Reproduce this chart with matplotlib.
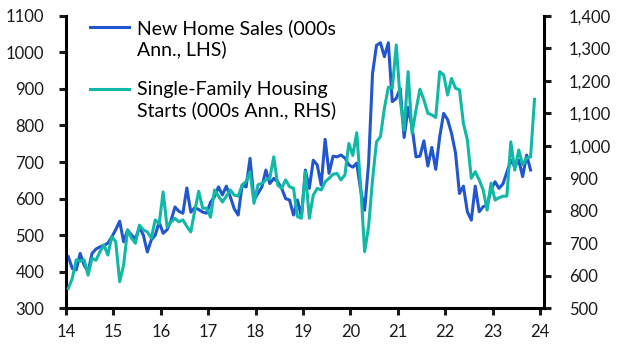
import matplotlib.pyplot as plt
from matplotlib.ticker import FuncFormatter
from matplotlib.legend_handler import HandlerLine2D
from matplotlib.lines import Line2D

plt.rcParams['font.family'] = ['Lato', 'DejaVu Sans']

# New home sales (000s annualised, LHS), Jan 2014 - Oct 2023
home_sales = [
    441, 409, 405, 450, 418, 400, 450, 462, 468, 472, 478, 495,   # 2014
    515, 538, 482, 514, 500, 490, 522, 500, 454, 487, 500, 536,   # 2015
    505, 515, 540, 577, 565, 560, 629, 563, 575, 570, 563, 560,   # 2016
    590, 605, 632, 610, 634, 605, 572, 555, 637, 632, 710, 596,   # 2017
    614, 632, 678, 641, 655, 646, 628, 600, 596, 555, 596, 550,   # 2018
    678, 628, 705, 692, 637, 762, 669, 716, 714, 719, 711, 692,   # 2019
    686, 697, 623, 568, 696, 942, 1019, 1026, 988, 1026, 865, 874,  # 2020
    901, 767, 849, 796, 714, 716, 758, 689, 740, 680, 769, 833,   # 2021
    816, 778, 725, 614, 634, 564, 541, 634, 564, 578, 582, 625,   # 2022
    646, 628, 640, 672, 705, 687, 705, 660, 719, 678,             # 2023
]

# Single-family housing starts (000s annualised, RHS), Jan 2014 - Nov 2023
sf_starts = [
    561, 592, 649, 645, 649, 602, 654, 648, 674, 695, 664, 720,   # 2014
    705, 582, 633, 741, 716, 700, 756, 741, 735, 716, 772, 760,   # 2015
    858, 750, 765, 777, 766, 772, 752, 735, 800, 860, 808, 808,   # 2016
    780, 864, 845, 827, 845, 864, 848, 845, 879, 890, 920, 823,   # 2017
    880, 884, 895, 900, 966, 879, 869, 895, 874, 869, 782, 777,   # 2018
    920, 777, 848, 869, 864, 889, 900, 912, 915, 895, 910, 1007,  # 2019
    970, 1040, 875, 674, 751, 895, 1012, 1028, 1115, 1180, 1177, 1310,  # 2020
    1141, 1048, 1228, 1038, 1110, 1174, 1141, 1100, 1095, 1087, 1228, 1218,  # 2021
    1156, 1207, 1177, 1172, 1069, 1018, 900, 920, 895, 864, 802, 885,  # 2022
    833, 840, 845, 845, 1012, 925, 987, 941, 962, 966, 1143,      # 2023
]

year_ticks = list(range(14, 25))
left_ticks = list(range(300, 1101, 100))
right_ticks = list(range(500, 1401, 100))

sales_label = "New Home Sales (000s\nAnn., LHS)"
starts_label = "Single-Family Housing\nStarts (000s Ann., RHS)"

# monthly points, placed a little after the start of each month
x_sales = [14 + (i + 0.6) / 12 for i in range(len(home_sales))]
x_starts = [14 + (i + 0.6) / 12 for i in range(len(sf_starts))]

blue = '#2156cf'
teal = '#12b8a6'


class TopLineHandler(HandlerLine2D):
    # put the legend line next to the first line of a two-line label
    def create_artists(self, legend, orig_handle, xdescent, ydescent,
                       width, height, fontsize, trans):
        artists = super().create_artists(legend, orig_handle, xdescent, ydescent,
                                         width, height, fontsize, trans)
        for a in artists:
            if isinstance(a, Line2D):
                a.set_ydata([y + fontsize * 0.6 for y in a.get_ydata()])
        return artists


fig = plt.figure(figsize=(6.28, 3.57), dpi=100)
ax = fig.add_axes([0.105, 0.1364, 0.761, 0.8196])
ax2 = ax.twinx()

l1, = ax.plot(x_sales, home_sales, color=blue, lw=2.2, label=sales_label)
l2, = ax2.plot(x_starts, sf_starts, color=teal, lw=2.2, label=starts_label)

ax.set_xlim(14, 24.08)
ax.set_ylim(300, 1100)
ax2.set_ylim(500, 1400)
ax.set_xticks(year_ticks)
ax.set_yticks(left_ticks)
ax2.set_yticks(right_ticks)
ax2.yaxis.set_major_formatter(FuncFormatter(lambda v, p: f"{int(v):,}"))

for a in (ax, ax2):
    a.spines['top'].set_visible(False)
    for s in ('left', 'right', 'bottom'):
        a.spines[s].set_linewidth(2.2)
    a.tick_params(width=2.2, length=5, labelsize=12, colors='#1a1a1a',
                  direction='out')
ax.spines['right'].set_visible(False)
ax2.spines['left'].set_visible(False)
ax2.spines['bottom'].set_visible(False)
ax.tick_params(axis='x', pad=6)
ax.tick_params(axis='y', pad=10.5)
ax2.tick_params(axis='y', pad=13)

ax2.legend([l1, l2], [sales_label, starts_label], loc='upper left',
           bbox_to_anchor=(0.05, 0.988), frameon=False, fontsize=14,
           handlelength=2.0, handletextpad=0.45, labelspacing=1.2,
           borderpad=0, borderaxespad=0,
           handler_map={Line2D: TopLineHandler()})

fig.savefig("out.png", dpi=100)
